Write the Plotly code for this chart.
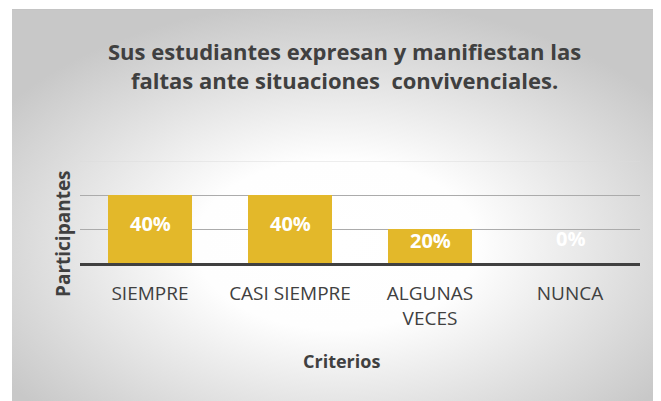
import plotly.graph_objects as go
import base64

categories = ["SIEMPRE", "CASI SIEMPRE", "ALGUNAS<br>VECES", "NUNCA"]
values = [0.40, 0.40, 0.20, 0.0]
labels = ["40%", "40%", "20%", "0%"]

title_text = "Sus estudiantes expresan y manifiestan las<br>faltas ante situaciones  convivenciales."
x_title = "Criterios"
y_title = "Participantes"

OFF = 8  # page body margin
PAGE_W, PAGE_H = 661, 401
FW, FH = PAGE_W - OFF, PAGE_H - OFF
# plot area in page pixels
PL, PR, PT, PB = 80, 640, 161, 263
L, T = PL - OFF, PT - OFF
R, B = FW - (PR - OFF), FH - (PB - OFF)
PW, PH = PR - PL, PB - PT


def px(x):
    return (x - PL) / PW


def py(y):
    return (PB - y) / PH


svg = """<svg xmlns='http://www.w3.org/2000/svg' width='649' height='392' viewBox='0 0 649 392' preserveAspectRatio='none'>
<defs><radialGradient id='g' cx='0.5' cy='0.6' r='0.62'>
<stop offset='0' stop-color='#ffffff'/><stop offset='0.35' stop-color='#fefefe'/><stop offset='1' stop-color='#c8c8c8'/>
</radialGradient></defs>
<rect x='0' y='0' width='649' height='392' fill='url(#g)'/>
<line x1='0' y1='0.5' x2='649' y2='0.5' stroke='#c4c4c4' stroke-width='1'/>
</svg>"""
src = "data:image/svg+xml;base64," + base64.b64encode(svg.encode()).decode()

fig = go.Figure()
fig.add_trace(go.Bar(
    x=categories, y=values, width=0.6,
    marker=dict(color="#E3B82A", line=dict(width=0)),
    hoverinfo="skip",
))

for c, v, t in zip(categories, values, labels):
    fig.add_annotation(
        x=c, y=v / 2, text=t, showarrow=False,
        yshift=6 if v > 0 else 25,
        xanchor="center", yanchor="middle",
        font=dict(family="Open Sans", size=20, color="white", weight="bold"),
    )

fig.add_annotation(
    x=px(63), y=py(234), xref="paper", yref="paper",
    text="<b>" + y_title + "</b>", textangle=-90, showarrow=False,
    xanchor="center", yanchor="middle",
    font=dict(family="Open Sans", size=19, color="#404040"),
)
fig.add_annotation(
    x=px(341), y=py(361), xref="paper", yref="paper",
    text="<b>" + x_title + "</b>", showarrow=False,
    xanchor="center", yanchor="middle",
    font=dict(family="Open Sans", size=18, color="#404040"),
)
fig.add_annotation(
    x=px(344), y=py(65), xref="paper", yref="paper",
    text="<b>" + title_text + "</b>", showarrow=False,
    xanchor="center", yanchor="middle",
    font=dict(family="Open Sans", size=22, color="#404040"),
)

# top gridline (at axis max)
fig.add_shape(
    type="line", xref="paper", yref="y", x0=0, x1=1, y0=0.6, y1=0.6,
    line=dict(color="#dcdcdc", width=1), layer="below",
)

fig.add_layout_image(
    source=src, xref="paper", yref="paper",
    x=px(12), y=py(9),
    sizex=(PAGE_W - 12) / PW, sizey=(PAGE_H - 9) / PH,
    sizing="stretch", xanchor="left", yanchor="top", layer="below",
)

fig.update_layout(
    width=FW, height=FH,
    margin=dict(l=L, r=R, t=T, b=B, pad=0),
    paper_bgcolor="white", plot_bgcolor="rgba(0,0,0,0)",
    showlegend=False, bargap=0.4,
    xaxis=dict(
        showgrid=False, showline=True, linecolor="#404040", linewidth=3,
        tickfont=dict(family="Open Sans", size=19, color="#404040"),
        ticks="", fixedrange=True, ticklabelstandoff=11,
    ),
    yaxis=dict(
        range=[0, 0.6], tickvals=[0.2, 0.4], showticklabels=False,
        showgrid=True, gridcolor="#ababab", gridwidth=1,
        zeroline=False, showline=False, ticks="",
    ),
)

fig.write_html("out.html")
